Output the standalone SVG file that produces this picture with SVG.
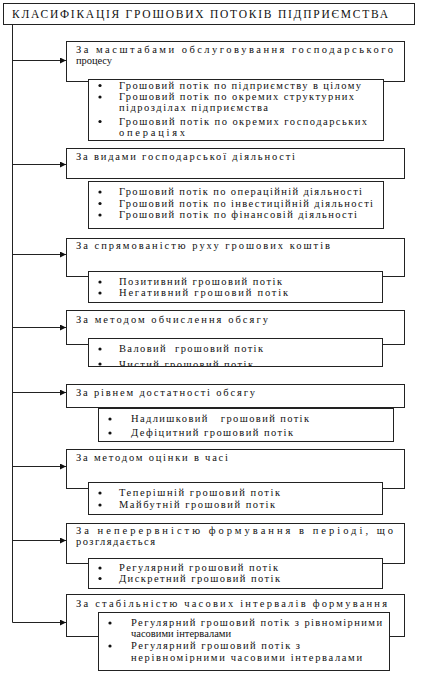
<svg xmlns="http://www.w3.org/2000/svg" width="427" height="678" viewBox="0 0 427 678">
<style>
.box{fill:#fff;stroke:#222;stroke-width:1}
.t{font-family:"Liberation Serif","Times New Roman",serif;font-size:10.5px;fill:#111}
.ti{font-family:"Liberation Serif","Times New Roman",serif;font-size:11.5px;fill:#111}
.ln{stroke:#222;stroke-width:1;fill:none}
.b{fill:#111}
</style>
<defs>
<marker id="ah" viewBox="0 0 10 10" refX="10" refY="5" markerWidth="8" markerHeight="6" markerUnits="userSpaceOnUse" orient="auto">
<path d="M0,0 L10,5 L0,10 z" fill="#111"/>
</marker>
<clipPath id="c4"><rect x="88" y="338" width="294" height="28"/></clipPath>
</defs>

<g id="title">
<rect class="box" x="3.5" y="3.5" width="411" height="21"/>
<text class="ti" x="12" y="17.5" textLength="376">КЛАСИФІКАЦІЯ ГРОШОВИХ ПОТОКІВ ПІДПРИЄМСТВА</text>
</g>

<g id="connectors">
<path class="ln" d="M12.5,24.5 V622.5"/>
<path class="ln" d="M12.5,60.5 H66" marker-end="url(#ah)"/>
<path class="ln" d="M12.5,164.5 H66" marker-end="url(#ah)"/>
<path class="ln" d="M12.5,254.5 H66" marker-end="url(#ah)"/>
<path class="ln" d="M12.5,327.5 H66" marker-end="url(#ah)"/>
<path class="ln" d="M12.5,392.5 H66" marker-end="url(#ah)"/>
<path class="ln" d="M12.5,466.5 H66" marker-end="url(#ah)"/>
<path class="ln" d="M12.5,540.5 H66" marker-end="url(#ah)"/>
<path class="ln" d="M12.5,622.5 H66" marker-end="url(#ah)"/>
</g>

<g id="n1">
<rect class="box" x="66.5" y="41.5" width="338" height="40"/>
<text class="t" x="76" y="53" textLength="317">За масштабами обслуговування господарського</text>
<text class="t" x="76" y="64" textLength="36">процесу</text>
<rect class="box" x="88.5" y="79.5" width="295" height="61"/>
<circle class="b" cx="100" cy="85.5" r="1.6"/>
<text class="t" x="119" y="89" textLength="242">Грошовий потік по підприємству в цілому</text>
<circle class="b" cx="100" cy="97" r="1.6"/>
<text class="t" x="119" y="100" textLength="235">Грошовий потік по окремих структурних</text>
<text class="t" x="119" y="110.5" textLength="149">підрозділах підприємства</text>
<circle class="b" cx="100" cy="121.5" r="1.6"/>
<text class="t" x="119" y="124.5" textLength="248">Грошовий потік по окремих господарських</text>
<text class="t" x="119" y="135.5" textLength="66">операціях</text>
</g>

<g id="n2">
<rect class="box" x="66.5" y="148.5" width="338" height="30"/>
<text class="t" x="76" y="160" textLength="219">За видами господарської діяльності</text>
<rect class="box" x="88.5" y="181.5" width="295" height="47"/>
<circle class="b" cx="100" cy="192" r="1.6"/>
<text class="t" x="119" y="195" textLength="243">Грошовий потік по операційній діяльності</text>
<circle class="b" cx="100" cy="203.5" r="1.6"/>
<text class="t" x="119" y="206.5" textLength="254">Грошовий потік по інвестиційній діяльності</text>
<circle class="b" cx="100" cy="215" r="1.6"/>
<text class="t" x="119" y="218" textLength="238">Грошовий потік по фінансовій діяльності</text>
</g>

<g id="n3">
<rect class="box" x="66.5" y="238.5" width="338" height="38"/>
<text class="t" x="76" y="249" textLength="254">За спрямованістю руху грошових коштів</text>
<rect class="box" x="88.5" y="271.5" width="294" height="31"/>
<circle class="b" cx="100" cy="282" r="1.6"/>
<text class="t" x="119" y="285" textLength="163">Позитивний грошовий потік</text>
<circle class="b" cx="100" cy="293" r="1.6"/>
<text class="t" x="119" y="296" textLength="169">Негативний грошовий потік</text>
</g>

<g id="n4">
<rect class="box" x="66.5" y="310.5" width="338" height="34"/>
<text class="t" x="76" y="322.5" textLength="192">За методом обчислення обсягу</text>
<rect class="box" x="88.5" y="338.5" width="294" height="28"/>
<circle class="b" cx="100" cy="349" r="1.6"/>
<text class="t" x="119" y="352" textLength="144" xml:space="preserve">Валовий  грошовий потік</text>
<g clip-path="url(#c4)">
<circle class="b" cx="100" cy="364" r="1.6"/>
<text class="t" x="119" y="367.5" textLength="134">Чистий грошовий потік</text>
</g>
</g>

<g id="n5">
<rect class="box" x="66.5" y="384.5" width="338" height="23"/>
<text class="t" x="76" y="396" textLength="179">За рівнем достатності обсягу</text>
<rect class="box" x="98.5" y="408.5" width="295" height="33"/>
<circle class="b" cx="110" cy="419" r="1.6"/>
<text class="t" x="131" y="422" textLength="178" xml:space="preserve">Надлишковий   грошовий потік</text>
<circle class="b" cx="110" cy="433" r="1.6"/>
<text class="t" x="131" y="436" textLength="162">Дефіцитний грошовий потік</text>
</g>

<g id="n6">
<rect class="box" x="66.5" y="449.5" width="338" height="39"/>
<text class="t" x="76" y="461" textLength="152">За методом оцінки в часі</text>
<rect class="box" x="88.5" y="482.5" width="294" height="32"/>
<circle class="b" cx="100" cy="493" r="1.6"/>
<text class="t" x="119" y="496" textLength="161">Теперішній грошовий потік</text>
<circle class="b" cx="100" cy="505" r="1.6"/>
<text class="t" x="119" y="508" textLength="156">Майбутній грошовий потік</text>
</g>

<g id="n7">
<rect class="box" x="66.5" y="523.5" width="338" height="40"/>
<text class="t" x="76" y="534" textLength="317">За неперервністю формування в періоді, що</text>
<text class="t" x="76" y="545" textLength="79">розглядається</text>
<rect class="box" x="88.5" y="558.5" width="294" height="30"/>
<circle class="b" cx="100" cy="568" r="1.6"/>
<text class="t" x="119" y="571" textLength="159">Регулярний грошовий потік</text>
<circle class="b" cx="100" cy="578.5" r="1.6"/>
<text class="t" x="119" y="581.5" textLength="161">Дискретний грошовий потік</text>
</g>

<g id="n8">
<rect class="box" x="66.5" y="594.5" width="338" height="42"/>
<text class="t" x="76" y="607" textLength="311">За стабільністю часових інтервалів формування</text>
<rect class="box" x="98.5" y="612.5" width="291" height="58"/>
<circle class="b" cx="110" cy="623" r="1.6"/>
<text class="t" x="131" y="626" textLength="251">Регулярний грошовий потік з рівномірними</text>
<text class="t" x="131" y="637">часовими інтервалами</text>
<circle class="b" cx="110" cy="646" r="1.6"/>
<text class="t" x="131" y="649" textLength="169">Регулярний грошовий потік з</text>
<text class="t" x="131" y="661" textLength="231">нерівномірними часовими інтервалами</text>
</g>
</svg>
